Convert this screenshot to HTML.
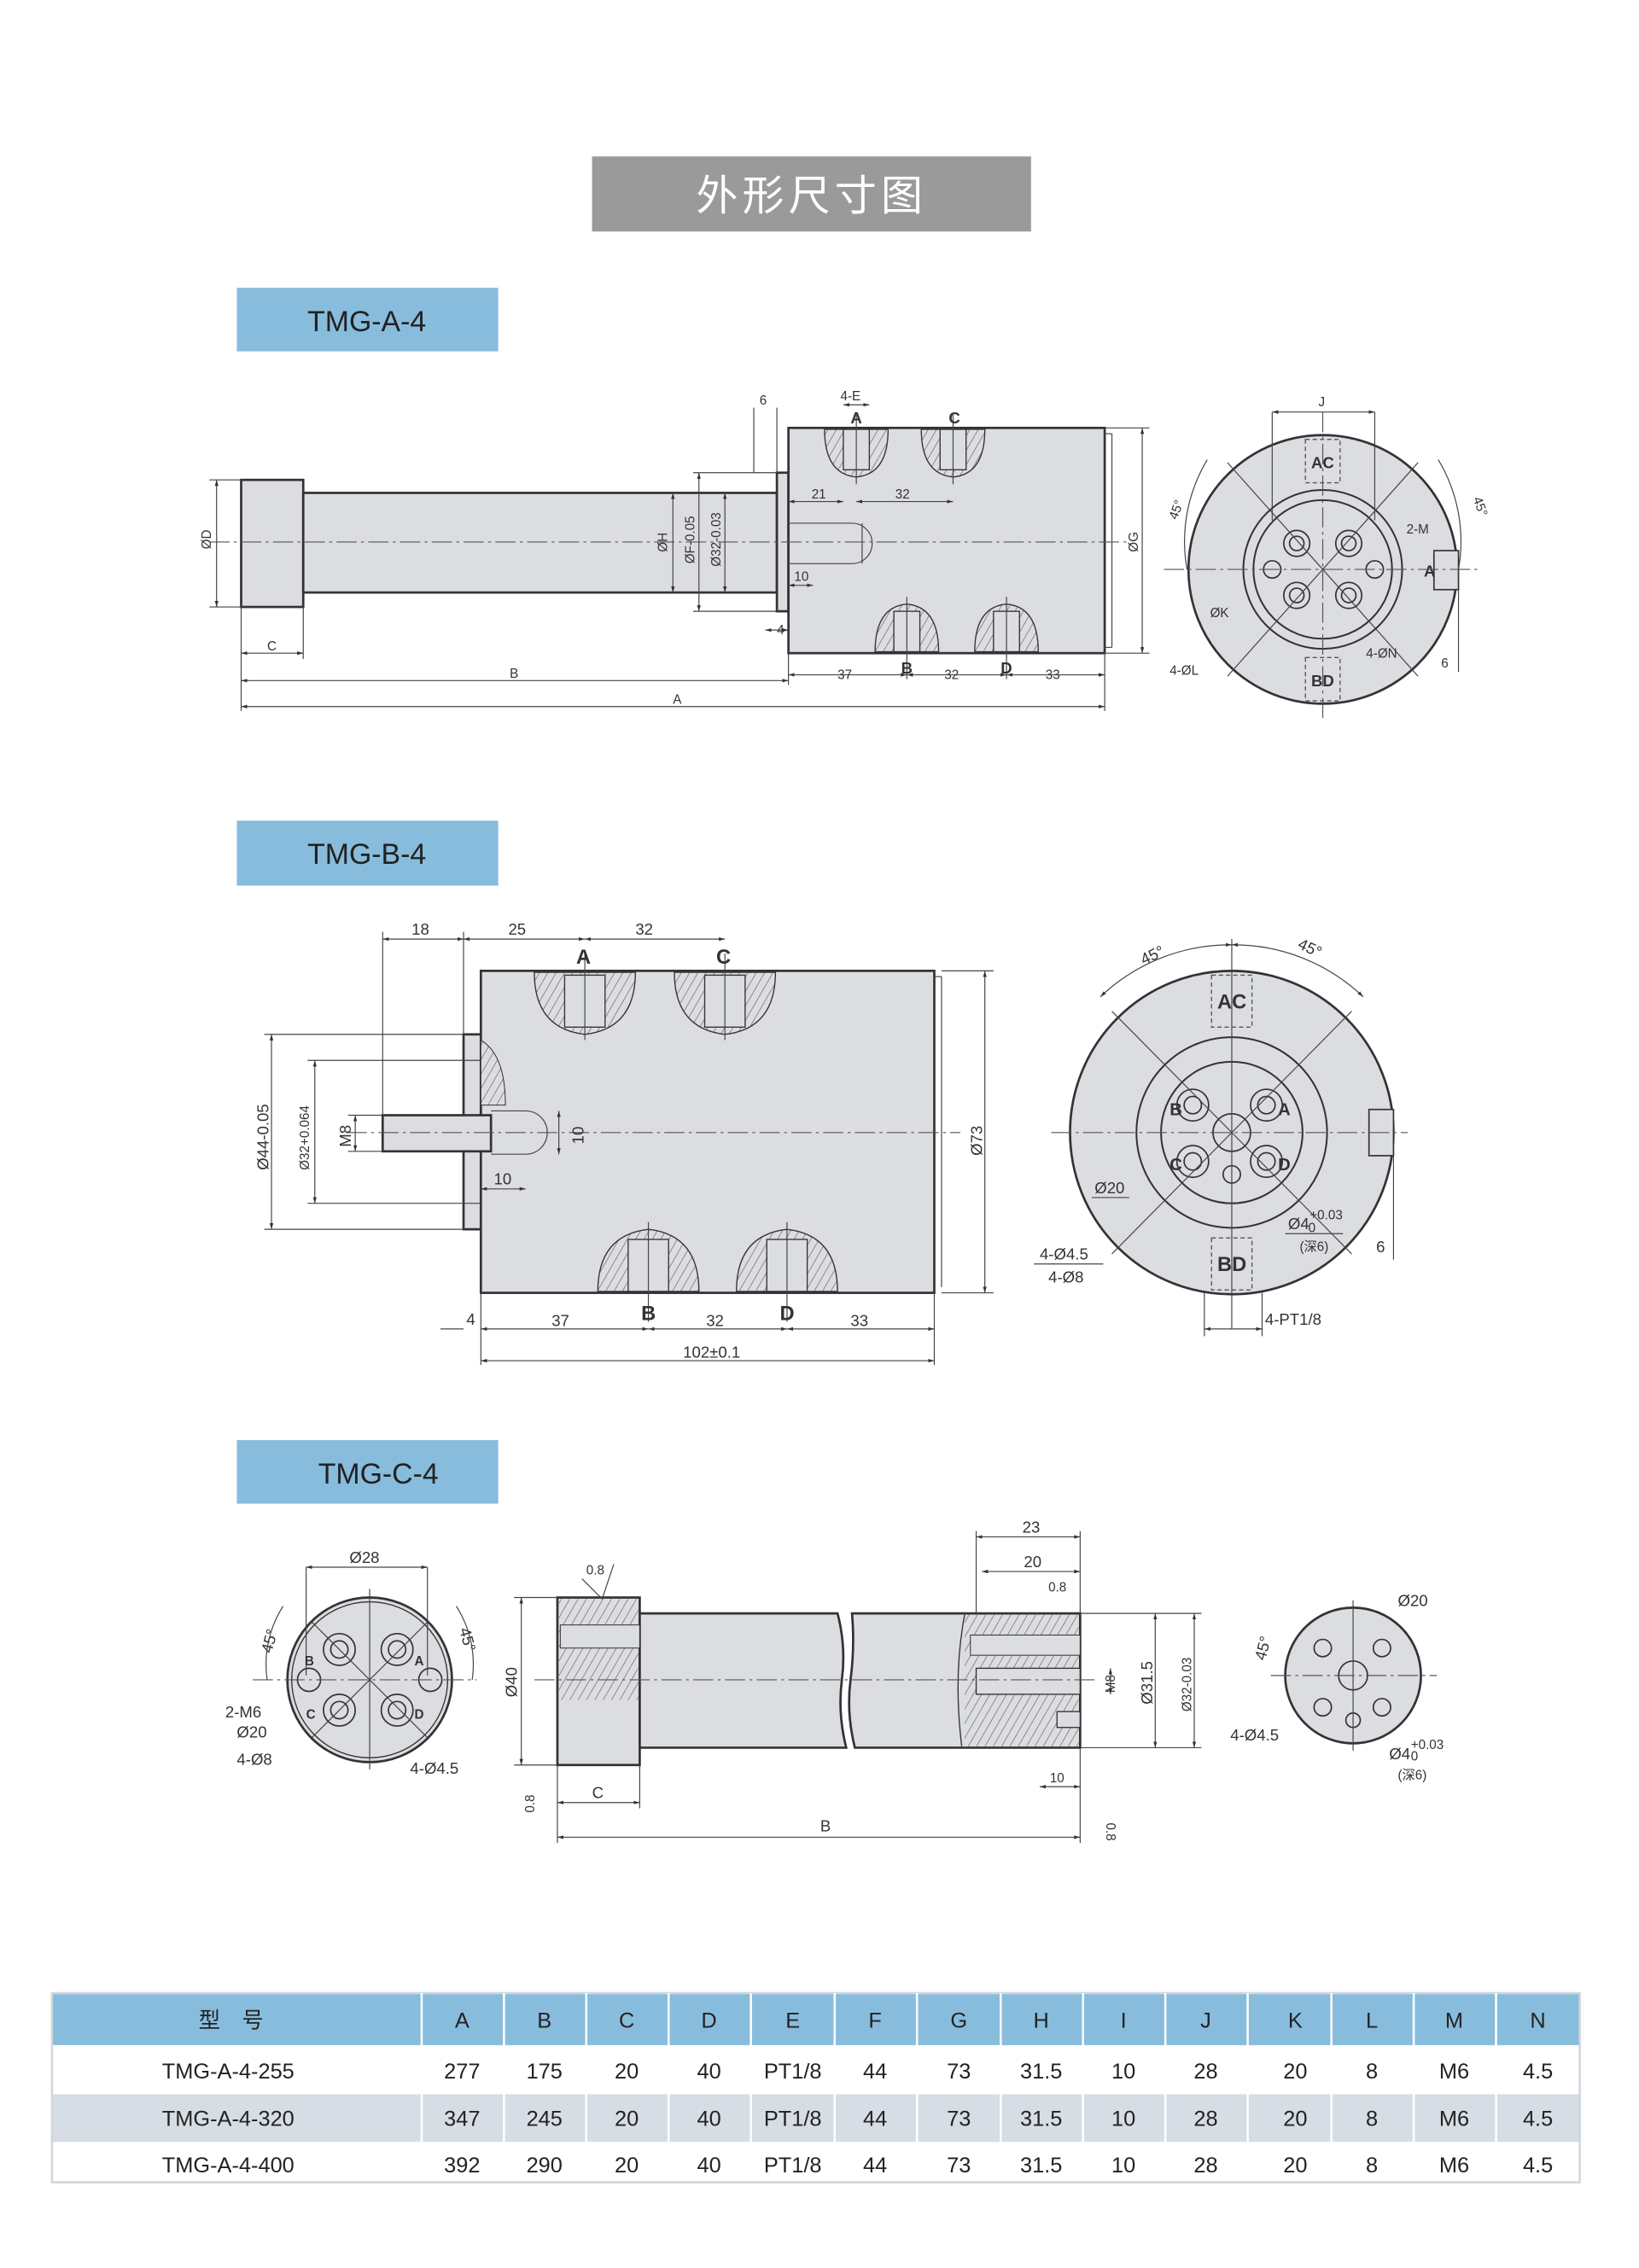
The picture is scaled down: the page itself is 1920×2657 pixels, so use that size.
<!DOCTYPE html>
<html><head><meta charset="utf-8"><style>
html,body{margin:0;padding:0;background:#fff}
svg{display:block}
text{font-family:"Liberation Sans","Noto Sans CJK SC",sans-serif}
</style></head><body>
<svg width="1920" height="2657" viewBox="0 0 1135 1570" xmlns="http://www.w3.org/2000/svg">
<defs>
<pattern id="h" width="5" height="5" patternUnits="userSpaceOnUse" patternTransform="rotate(30)"><rect width="5" height="5" fill="#dcdde1"/><line x1="0" y1="0" x2="0" y2="5" stroke="#555" stroke-width="0.7"/></pattern>
<marker id="a" viewBox="0 0 10 10" refX="10" refY="5" markerWidth="6" markerHeight="6" orient="auto-start-reverse"><path d="M0 2L10 5L0 8z" fill="#333"/></marker>
</defs>
<style>
.b{fill:#dcdde1;stroke:#333;stroke-width:1.6}
.l{stroke:#444;stroke-width:0.7;fill:none}
.d{stroke:#444;stroke-width:0.7;fill:none;marker-start:url(#a);marker-end:url(#a)}
.c{stroke:#555;stroke-width:0.7;stroke-dasharray:14 3 2 3;fill:none}
.t{font-size:11px;fill:#333}
.s{font-size:9px;fill:#333}
.tb{font-size:15px;fill:#222;text-anchor:middle}
</style>

<!-- title -->
<rect x="410" y="108" width="304" height="52" fill="#9a9a9a"/>
<text x="562" y="145" font-size="29" fill="#fff" text-anchor="middle" letter-spacing="3">外形尺寸图</text>

<rect x="164" y="199" width="181" height="44" fill="#88bcdc"/>
<text x="254" y="229" font-size="20" fill="#222" text-anchor="middle">TMG-A-4</text>
<rect x="164" y="568" width="181" height="45" fill="#88bcdc"/>
<text x="254" y="598" font-size="20" fill="#222" text-anchor="middle">TMG-B-4</text>
<rect x="164" y="997" width="181" height="44" fill="#88bcdc"/>
<text x="262" y="1027" font-size="20" fill="#222" text-anchor="middle">TMG-C-4</text>

<!-- ===== TMG-A-4 side ===== -->
<rect class="b" x="167" y="332" width="43" height="88"/>
<rect class="b" x="210" y="341" width="328" height="69"/>
<rect class="b" x="538" y="327" width="8" height="96"/>
<rect class="b" x="546" y="296" width="219" height="156"/>
<line class="l" x1="765" y1="300" x2="770" y2="300"/><line class="l" x1="770" y1="300" x2="770" y2="448"/><line class="l" x1="765" y1="448" x2="770" y2="448"/>
<path class="l" d="M546 362H590A14 14 0 0 1 590 390H546" stroke-width="1"/>
<line class="l" x1="597" y1="362" x2="597" y2="390"/>
<g>
<path d="M571 297Q571 328 593 330Q615 328 615 297Z" fill="url(#h)" stroke="#333" stroke-width="0.8"/><rect x="584" y="297" width="18" height="28" fill="#dcdde1" stroke="#333" stroke-width="0.8"/><line class="l" x1="593" y1="287" x2="593" y2="335"/>
<path d="M638 297Q638 328 660 330Q682 328 682 297Z" fill="url(#h)" stroke="#333" stroke-width="0.8"/><rect x="651" y="297" width="18" height="28" fill="#dcdde1" stroke="#333" stroke-width="0.8"/><line class="l" x1="660" y1="287" x2="660" y2="335"/>
<path d="M606 451Q606 420 628 418Q650 420 650 451Z" fill="url(#h)" stroke="#333" stroke-width="0.8"/><rect x="619" y="423" width="18" height="28" fill="#dcdde1" stroke="#333" stroke-width="0.8"/><line class="l" x1="628" y1="413" x2="628" y2="470"/>
<path d="M675 451Q675 420 697 418Q719 420 719 451Z" fill="url(#h)" stroke="#333" stroke-width="0.8"/><rect x="688" y="423" width="18" height="28" fill="#dcdde1" stroke="#333" stroke-width="0.8"/><line class="l" x1="697" y1="413" x2="697" y2="470"/>
</g>
<line class="c" x1="145" y1="375" x2="782" y2="375"/>
<line class="d" x1="150" y1="332" x2="150" y2="420"/><line class="l" x1="145" y1="332" x2="167" y2="332"/><line class="l" x1="145" y1="420" x2="167" y2="420"/>
<text class="s" transform="translate(146 380) rotate(-90)">ØD</text>
<line class="d" x1="466" y1="341" x2="466" y2="410"/><text class="s" transform="translate(462 382) rotate(-90)">ØH</text>
<line class="d" x1="484" y1="327" x2="484" y2="423"/><text class="s" transform="translate(481 390) rotate(-90)">ØF-0.05</text>
<line class="d" x1="502" y1="341" x2="502" y2="410"/><text class="s" transform="translate(499 392) rotate(-90)">Ø32-0.03</text>
<line class="l" x1="480" y1="327" x2="538" y2="327"/><line class="l" x1="480" y1="423" x2="538" y2="423"/>
<line class="d" x1="791" y1="296" x2="791" y2="452"/><text class="s" transform="translate(788 382) rotate(-90)">ØG</text>
<line class="l" x1="765" y1="296" x2="796" y2="296"/><line class="l" x1="765" y1="452" x2="796" y2="452"/>
<line class="d" x1="167" y1="452" x2="210" y2="452"/><text class="s" x="185" y="450">C</text>
<line class="d" x1="167" y1="471" x2="546" y2="471"/><text class="s" x="353" y="469">B</text>
<line class="d" x1="167" y1="489" x2="765" y2="489"/><text class="s" x="466" y="487">A</text>
<line class="l" x1="167" y1="420" x2="167" y2="492"/><line class="l" x1="210" y1="420" x2="210" y2="456"/><line class="l" x1="546" y1="452" x2="546" y2="474"/><line class="l" x1="765" y1="452" x2="765" y2="492"/>
<line class="d" x1="546" y1="467" x2="628" y2="467"/><line class="d" x1="628" y1="467" x2="697" y2="467"/><line class="d" x1="697" y1="467" x2="765" y2="467"/>
<text class="s" x="580" y="470">37</text><text class="s" x="654" y="470">32</text><text class="s" x="724" y="470">33</text>
<text class="t" x="624" y="466" font-weight="bold">B</text><text class="t" x="693" y="466" font-weight="bold">D</text>
<text class="t" x="589" y="293" font-weight="bold">A</text><text class="t" x="657" y="293" font-weight="bold">C</text>
<line class="d" x1="546" y1="347" x2="584" y2="347"/><line class="d" x1="593" y1="347" x2="660" y2="347"/><text class="s" x="562" y="345">21</text><text class="s" x="620" y="345">32</text>
<line class="d" x1="546" y1="405" x2="563" y2="405"/><text class="s" x="550" y="402">10</text>
<line class="l" x1="522" y1="282" x2="522" y2="327"/><line class="l" x1="538" y1="282" x2="538" y2="327"/><text class="s" x="526" y="280">6</text>
<line class="d" x1="530" y1="436" x2="546" y2="436"/><text class="s" x="538" y="439">4</text>
<line class="d" x1="584" y1="280" x2="602" y2="280"/><text class="s" x="582" y="277">4-E</text>
<!-- A end view -->
<circle class="b" cx="916" cy="394" r="93"/>
<circle cx="916" cy="394" r="55" fill="none" stroke="#333" stroke-width="1.2"/>
<circle cx="916" cy="394" r="48" fill="none" stroke="#333" stroke-width="1.2"/>
<g fill="none" stroke="#333" stroke-width="1">
<circle cx="898" cy="376" r="9"/><circle cx="898" cy="376" r="5"/><circle cx="934" cy="376" r="9"/><circle cx="934" cy="376" r="5"/>
<circle cx="898" cy="412" r="9"/><circle cx="898" cy="412" r="5"/><circle cx="934" cy="412" r="9"/><circle cx="934" cy="412" r="5"/>
<circle cx="881" cy="394" r="6"/><circle cx="952" cy="394" r="6"/>
</g>
<rect x="904" y="304" width="24" height="30" fill="none" stroke="#555" stroke-dasharray="3 2" stroke-width="0.8"/><text class="t" x="908" y="324" font-weight="bold">AC</text>
<rect x="904" y="455" width="24" height="30" fill="none" stroke="#555" stroke-dasharray="3 2" stroke-width="0.8"/><text class="t" x="908" y="475" font-weight="bold">BD</text>
<rect x="993" y="381" width="17" height="27" fill="#dcdde1" stroke="#333"/><text class="t" x="986" y="399" font-weight="bold">A</text>
<line class="c" x1="806" y1="394" x2="1026" y2="394"/><line class="c" x1="916" y1="285" x2="916" y2="500"/>
<line class="l" x1="850" y1="320" x2="982" y2="468"/><line class="l" x1="982" y1="320" x2="850" y2="468"/>
<line class="d" x1="881" y1="285" x2="952" y2="285"/><text class="s" x="913" y="281">J</text>
<line class="l" x1="881" y1="285" x2="881" y2="360"/><line class="l" x1="952" y1="285" x2="952" y2="360"/>
<path class="l" d="M836 318A110 110 0 0 0 822 394"/><path class="l" d="M996 318A110 110 0 0 1 1010 394"/>
<text class="s" transform="translate(815 360) rotate(-70)">45°</text><text class="s" transform="translate(1020 345) rotate(70)">45°</text>
<text class="s" x="974" y="369">2-M</text><text class="s" x="838" y="427">ØK</text><text class="s" x="946" y="455">4-ØN</text><text class="s" x="810" y="467">4-ØL</text><text class="s" x="998" y="462">6</text>
<line class="l" x1="1010" y1="408" x2="1010" y2="465"/>

<!-- ===== TMG-B-4 side ===== -->
<rect class="b" x="321" y="716" width="12" height="135"/>
<rect class="b" x="333" y="672" width="314" height="223"/>
<line class="l" x1="647" y1="676" x2="652" y2="676"/><line class="l" x1="652" y1="676" x2="652" y2="891"/>
<rect class="b" x="265" y="772" width="75" height="25"/>
<path class="l" d="M340 769H364A15 15 0 0 1 364 799H340" stroke-width="1"/>
<path d="M333 720Q350 730 350 765H333Z" fill="url(#h)" stroke="#333" stroke-width="0.6"/>
<g>
<path d="M370 673Q370 712 405 716Q440 712 440 673Z" fill="url(#h)" stroke="#333" stroke-width="0.8"/><rect x="391" y="675" width="28" height="36" fill="#dcdde1" stroke="#333" stroke-width="0.8"/><line class="l" x1="405" y1="660" x2="405" y2="720"/>
<path d="M467 673Q467 712 502 716Q537 712 537 673Z" fill="url(#h)" stroke="#333" stroke-width="0.8"/><rect x="488" y="675" width="28" height="36" fill="#dcdde1" stroke="#333" stroke-width="0.8"/><line class="l" x1="502" y1="660" x2="502" y2="720"/>
<path d="M414 894Q414 855 449 851Q484 855 484 894Z" fill="url(#h)" stroke="#333" stroke-width="0.8"/><rect x="435" y="858" width="28" height="36" fill="#dcdde1" stroke="#333" stroke-width="0.8"/><line class="l" x1="449" y1="846" x2="449" y2="915"/>
<path d="M510 894Q510 855 545 851Q580 855 580 894Z" fill="url(#h)" stroke="#333" stroke-width="0.8"/><rect x="531" y="858" width="28" height="36" fill="#dcdde1" stroke="#333" stroke-width="0.8"/><line class="l" x1="545" y1="846" x2="545" y2="915"/>
</g>
<line class="c" x1="240" y1="784" x2="665" y2="784"/>
<text x="399" y="667" font-size="14" fill="#333" font-weight="bold">A</text><text x="496" y="667" font-size="14" fill="#333" font-weight="bold">C</text>
<text x="444" y="914" font-size="14" fill="#333" font-weight="bold">B</text><text x="540" y="914" font-size="14" fill="#333" font-weight="bold">D</text>
<line class="d" x1="265" y1="650" x2="321" y2="650"/><line class="d" x1="321" y1="650" x2="405" y2="650"/><line class="d" x1="405" y1="650" x2="502" y2="650"/>
<line class="l" x1="265" y1="645" x2="265" y2="772"/><line class="l" x1="321" y1="645" x2="321" y2="716"/>
<text class="t" x="285" y="647">18</text><text class="t" x="352" y="647">25</text><text class="t" x="440" y="647">32</text>
<line class="d" x1="188" y1="716" x2="188" y2="851"/><line class="l" x1="183" y1="716" x2="321" y2="716"/><line class="l" x1="183" y1="851" x2="321" y2="851"/>
<text class="t" transform="translate(186 810) rotate(-90)">Ø44-0.05</text>
<line class="d" x1="218" y1="734" x2="218" y2="833"/><line class="l" x1="213" y1="734" x2="333" y2="734"/><line class="l" x1="213" y1="833" x2="333" y2="833"/>
<text class="s" transform="translate(214 810) rotate(-90)">Ø32+0.064</text>
<line class="d" x1="246" y1="772" x2="246" y2="797"/><line class="l" x1="241" y1="772" x2="265" y2="772"/><line class="l" x1="241" y1="797" x2="265" y2="797"/><text class="t" transform="translate(243 794) rotate(-90)">M8</text>
<line class="d" x1="387" y1="769" x2="387" y2="799"/><text class="t" transform="translate(404 792) rotate(-90)">10</text>
<line class="d" x1="333" y1="823" x2="364" y2="823"/><text class="t" x="342" y="820">10</text>
<line class="d" x1="682" y1="672" x2="682" y2="895"/><line class="l" x1="652" y1="672" x2="688" y2="672"/><line class="l" x1="652" y1="895" x2="688" y2="895"/><text class="t" transform="translate(680 800) rotate(-90)">Ø73</text>
<line class="l" x1="333" y1="895" x2="333" y2="945"/><line class="l" x1="647" y1="895" x2="647" y2="945"/>
<line class="d" x1="333" y1="920" x2="449" y2="920"/><line class="d" x1="449" y1="920" x2="545" y2="920"/><line class="d" x1="545" y1="920" x2="647" y2="920"/>
<line class="l" x1="305" y1="920" x2="321" y2="920"/><text class="t" x="323" y="917">4</text>
<text class="t" x="382" y="918">37</text><text class="t" x="489" y="918">32</text><text class="t" x="589" y="918">33</text>
<line class="d" x1="333" y1="942" x2="647" y2="942"/><text class="t" x="473" y="940">102±0.1</text>
<!-- B end view -->
<circle class="b" cx="853" cy="784" r="112"/>
<circle cx="853" cy="784" r="66" fill="none" stroke="#333" stroke-width="1.2"/>
<circle cx="853" cy="784" r="49" fill="none" stroke="#333" stroke-width="1.2"/>
<g fill="none" stroke="#333" stroke-width="1">
<circle cx="826" cy="765" r="11"/><circle cx="826" cy="765" r="6"/><circle cx="877" cy="765" r="11"/><circle cx="877" cy="765" r="6"/>
<circle cx="826" cy="804" r="11"/><circle cx="826" cy="804" r="6"/><circle cx="877" cy="804" r="11"/><circle cx="877" cy="804" r="6"/>
<circle cx="853" cy="784" r="13"/><circle cx="853" cy="813" r="6"/>
</g>
<rect x="839" y="675" width="28" height="36" fill="none" stroke="#555" stroke-dasharray="3 2" stroke-width="0.8"/><text x="843" y="698" font-size="14" fill="#333" font-weight="bold">AC</text>
<rect x="839" y="857" width="28" height="36" fill="none" stroke="#555" stroke-dasharray="3 2" stroke-width="0.8"/><text x="843" y="880" font-size="14" fill="#333" font-weight="bold">BD</text>
<text x="810" y="772" font-size="12" fill="#333" font-weight="bold">B</text><text x="885" y="772" font-size="12" fill="#333" font-weight="bold">A</text>
<text x="810" y="810" font-size="12" fill="#333" font-weight="bold">C</text><text x="885" y="810" font-size="12" fill="#333" font-weight="bold">D</text>
<rect x="948" y="768" width="17" height="32" fill="#dcdde1" stroke="#333"/>
<line class="c" x1="728" y1="784" x2="975" y2="784"/><line class="l" x1="853" y1="650" x2="853" y2="920"/>
<line class="l" x1="770" y1="700" x2="936" y2="868"/><line class="l" x1="936" y1="700" x2="770" y2="868"/>
<path class="d" d="M762 690A130 130 0 0 1 853 654"/><path class="d" d="M853 654A130 130 0 0 1 944 690"/>
<text class="t" transform="translate(792 668) rotate(-25)">45°</text><text class="t" transform="translate(898 656) rotate(25)">45°</text>
<text class="t" x="758" y="826">Ø20</text><line class="l" x1="756" y1="829" x2="782" y2="829"/>
<text class="t" x="720" y="872">4-Ø4.5</text><line class="l" x1="716" y1="875" x2="764" y2="875"/><text class="t" x="726" y="888">4-Ø8</text>
<text class="t" x="892" y="851">Ø4</text><text class="s" x="907" y="844">+0.03</text><text class="s" x="906" y="853">0</text><line class="l" x1="890" y1="854" x2="930" y2="854"/><text class="s" x="900" y="866">(深6)</text>
<text class="t" x="953" y="867">6</text><line class="l" x1="965" y1="800" x2="965" y2="872"/>
<text class="t" x="876" y="917">4-PT1/8</text><line class="l" x1="834" y1="895" x2="834" y2="925"/><line class="l" x1="874" y1="895" x2="874" y2="925"/><line class="d" x1="834" y1="920" x2="874" y2="920"/>

<!-- ===== TMG-C-4 left view ===== -->
<circle class="b" cx="256" cy="1163" r="57"/>
<circle cx="256" cy="1163" r="54" fill="none" stroke="#333" stroke-width="0.8"/>
<g fill="none" stroke="#333" stroke-width="1">
<circle cx="235" cy="1142" r="11"/><circle cx="235" cy="1142" r="6"/><circle cx="275" cy="1142" r="11"/><circle cx="275" cy="1142" r="6"/>
<circle cx="235" cy="1184" r="11"/><circle cx="235" cy="1184" r="6"/><circle cx="275" cy="1184" r="11"/><circle cx="275" cy="1184" r="6"/>
<circle cx="214" cy="1163" r="8"/><circle cx="298" cy="1163" r="8"/>
</g>
<line class="c" x1="175" y1="1163" x2="330" y2="1163"/><line class="l" x1="256" y1="1100" x2="256" y2="1225"/>
<line class="l" x1="216" y1="1123" x2="296" y2="1203"/><line class="l" x1="296" y1="1123" x2="216" y2="1203"/>
<line class="d" x1="212" y1="1085" x2="296" y2="1085"/><text class="t" x="242" y="1082">Ø28</text>
<line class="l" x1="212" y1="1085" x2="212" y2="1160"/><line class="l" x1="296" y1="1085" x2="296" y2="1160"/>
<text class="t" transform="translate(188 1145) rotate(-75)">45°</text><text class="t" transform="translate(318 1128) rotate(75)">45°</text>
<path class="l" d="M196 1112A75 75 0 0 0 185 1163"/><path class="l" d="M316 1112A75 75 0 0 1 327 1163"/>
<text class="s" x="211" y="1153" font-weight="bold">B</text><text class="s" x="287" y="1153" font-weight="bold">A</text><text class="s" x="212" y="1190" font-weight="bold">C</text><text class="s" x="287" y="1190" font-weight="bold">D</text>
<text class="t" x="156" y="1189">2-M6</text><text class="t" x="164" y="1203">Ø20</text><text class="t" x="164" y="1222">4-Ø8</text><text class="t" x="284" y="1228">4-Ø4.5</text>
<!-- C side -->
<rect class="b" x="386" y="1106" width="57" height="116"/>
<rect x="387" y="1107" width="55" height="70" fill="url(#h)"/>
<path class="b" d="M443 1117H580Q586 1140 583 1163Q580 1186 586 1210H443Z"/>
<path class="b" d="M590 1117H748V1210H592Q586 1186 589 1163Q592 1140 590 1117Z"/>
<rect x="668" y="1118" width="79" height="91" fill="url(#h)"/>
<path d="M668 1118Q660 1160 666 1209" fill="none" stroke="#333" stroke-width="0.8"/>
<rect x="676" y="1155" width="72" height="18" fill="#dcdde1" stroke="#333" stroke-width="0.8"/>
<rect x="672" y="1132" width="76" height="14" fill="#dcdde1" stroke="#333" stroke-width="0.6"/>
<rect x="732" y="1185" width="16" height="11" fill="#dcdde1" stroke="#333" stroke-width="0.8"/>
<rect x="388" y="1125" width="55" height="16" fill="#dcdde1" stroke="#333" stroke-width="0.6"/>
<line class="c" x1="370" y1="1163" x2="760" y2="1163"/>
<line class="d" x1="361" y1="1106" x2="361" y2="1222"/><line class="l" x1="356" y1="1106" x2="386" y2="1106"/><line class="l" x1="356" y1="1222" x2="386" y2="1222"/><text class="t" transform="translate(358 1175) rotate(-90)">Ø40</text>
<line class="d" x1="800" y1="1117" x2="800" y2="1210"/><line class="d" x1="827" y1="1117" x2="827" y2="1210"/>
<line class="l" x1="748" y1="1117" x2="832" y2="1117"/><line class="l" x1="748" y1="1210" x2="832" y2="1210"/>
<text class="t" transform="translate(798 1180) rotate(-90)">Ø31.5</text><text class="s" transform="translate(825 1185) rotate(-90)">Ø32-0.03</text>
<line class="d" x1="769" y1="1155" x2="769" y2="1173"/><text class="s" transform="translate(772 1172) rotate(-90)">M8</text>
<line class="d" x1="676" y1="1064" x2="748" y2="1064"/><text class="t" x="708" y="1061">23</text>
<line class="d" x1="680" y1="1088" x2="748" y2="1088"/><text class="t" x="709" y="1085">20</text>
<line class="l" x1="676" y1="1060" x2="676" y2="1118"/><line class="l" x1="748" y1="1060" x2="748" y2="1118"/>
<text class="s" x="726" y="1102">0.8</text><text class="s" x="406" y="1090">0.8</text>
<path class="l" d="M403 1093L417 1107L425 1083"/>
<line class="d" x1="720" y1="1237" x2="748" y2="1237"/><text class="s" x="727" y="1234">10</text>
<line class="d" x1="386" y1="1248" x2="443" y2="1248"/><text class="t" x="410" y="1245">C</text>
<line class="d" x1="386" y1="1272" x2="748" y2="1272"/><text class="t" x="568" y="1268">B</text>
<line class="l" x1="386" y1="1222" x2="386" y2="1276"/><line class="l" x1="443" y1="1222" x2="443" y2="1252"/><line class="l" x1="748" y1="1210" x2="748" y2="1276"/>
<text class="s" transform="translate(370 1255) rotate(-90)">0.8</text><text class="s" transform="translate(766 1262) rotate(90)">0.8</text>
<!-- C right view -->
<circle class="b" cx="937" cy="1160" r="47"/>
<g fill="none" stroke="#333" stroke-width="1">
<circle cx="937" cy="1160" r="10"/><circle cx="916" cy="1141" r="6"/><circle cx="957" cy="1141" r="6"/><circle cx="916" cy="1182" r="6"/><circle cx="957" cy="1182" r="6"/><circle cx="937" cy="1191" r="5"/>
</g>
<line class="c" x1="880" y1="1160" x2="995" y2="1160"/><line class="l" x1="937" y1="1108" x2="937" y2="1212"/>
<text class="t" transform="translate(876 1150) rotate(-75)">45°</text>
<text class="t" x="968" y="1112">Ø20</text><text class="t" x="852" y="1205">4-Ø4.5</text>
<text class="t" x="962" y="1218">Ø4</text><text class="s" x="977" y="1211">+0.03</text><text class="s" x="977" y="1219">0</text><text class="s" x="968" y="1232">(深6)</text>

<!-- ===== table ===== -->
<rect x="36" y="1380" width="1058" height="36" fill="#88bcdc"/>
<rect x="36" y="1450" width="1058" height="33" fill="#d6dde4"/>
<rect x="36" y="1380" width="1058" height="131" fill="none" stroke="#cfd6dd" stroke-width="1.5"/>
<g stroke="#fff" stroke-width="1.5">
<line x1="292" y1="1380" x2="292" y2="1483"/>
<line x1="349" y1="1380" x2="349" y2="1510"/><line x1="406" y1="1380" x2="406" y2="1510"/><line x1="463" y1="1380" x2="463" y2="1510"/><line x1="520" y1="1380" x2="520" y2="1510"/><line x1="578" y1="1380" x2="578" y2="1510"/><line x1="635" y1="1380" x2="635" y2="1510"/><line x1="693" y1="1380" x2="693" y2="1510"/><line x1="750" y1="1380" x2="750" y2="1510"/><line x1="807" y1="1380" x2="807" y2="1510"/><line x1="864" y1="1380" x2="864" y2="1510"/><line x1="922" y1="1380" x2="922" y2="1510"/><line x1="979" y1="1380" x2="979" y2="1510"/><line x1="1036" y1="1380" x2="1036" y2="1510"/>
</g>
<g class="tb">
<text x="160" y="1404">型　号</text>
<text x="320" y="1404">A</text><text x="377" y="1404">B</text><text x="434" y="1404">C</text><text x="491" y="1404">D</text><text x="549" y="1404">E</text><text x="606" y="1404">F</text><text x="664" y="1404">G</text><text x="721" y="1404">H</text><text x="778" y="1404">I</text><text x="835" y="1404">J</text><text x="897" y="1404">K</text><text x="950" y="1404">L</text><text x="1007" y="1404">M</text><text x="1065" y="1404">N</text>
</g>
<g class="tb">
<text x="158" y="1439">TMG-A-4-255</text><text x="320" y="1439">277</text><text x="377" y="1439">175</text><text x="434" y="1439">20</text><text x="491" y="1439">40</text><text x="549" y="1439">PT1/8</text><text x="606" y="1439">44</text><text x="664" y="1439">73</text><text x="721" y="1439">31.5</text><text x="778" y="1439">10</text><text x="835" y="1439">28</text><text x="897" y="1439">20</text><text x="950" y="1439">8</text><text x="1007" y="1439">M6</text><text x="1065" y="1439">4.5</text>
<text x="158" y="1472">TMG-A-4-320</text><text x="320" y="1472">347</text><text x="377" y="1472">245</text><text x="434" y="1472">20</text><text x="491" y="1472">40</text><text x="549" y="1472">PT1/8</text><text x="606" y="1472">44</text><text x="664" y="1472">73</text><text x="721" y="1472">31.5</text><text x="778" y="1472">10</text><text x="835" y="1472">28</text><text x="897" y="1472">20</text><text x="950" y="1472">8</text><text x="1007" y="1472">M6</text><text x="1065" y="1472">4.5</text>
<text x="158" y="1504">TMG-A-4-400</text><text x="320" y="1504">392</text><text x="377" y="1504">290</text><text x="434" y="1504">20</text><text x="491" y="1504">40</text><text x="549" y="1504">PT1/8</text><text x="606" y="1504">44</text><text x="664" y="1504">73</text><text x="721" y="1504">31.5</text><text x="778" y="1504">10</text><text x="835" y="1504">28</text><text x="897" y="1504">20</text><text x="950" y="1504">8</text><text x="1007" y="1504">M6</text><text x="1065" y="1504">4.5</text>
</g>
</svg>
</body></html>
